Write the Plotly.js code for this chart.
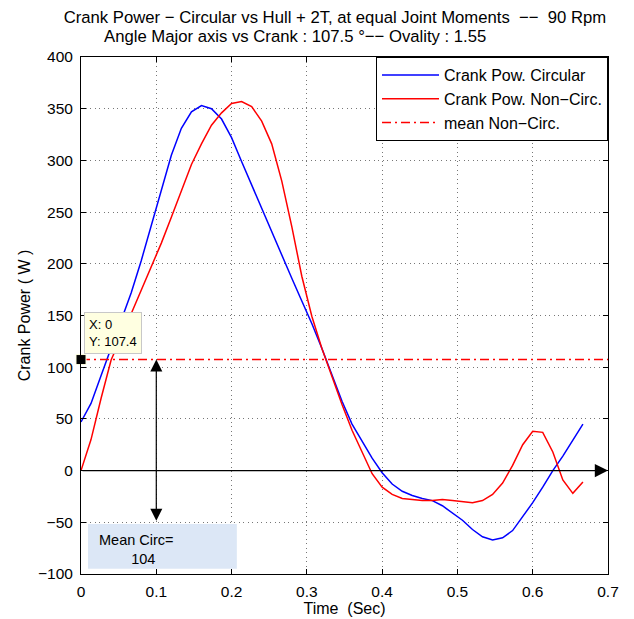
<!DOCTYPE html>
<html><head><meta charset="utf-8">
<script src="https://cdn.plot.ly/plotly-3.0.1.min.js"></script>
<style>html,body{margin:0;padding:0;background:#fff}#chart{width:634px;height:619px}</style>
</head><body><div id="chart"></div>
<script>
const time = [0, 0.0133, 0.0267, 0.04, 0.0533, 0.0667, 0.08, 0.0933, 0.1067, 0.12,
  0.1333, 0.1467, 0.16, 0.1733, 0.1867, 0.2, 0.2133, 0.2267, 0.24, 0.2533,
  0.2667, 0.28, 0.2933, 0.3067, 0.32, 0.3333, 0.3467, 0.36, 0.3733, 0.3867,
  0.4, 0.4133, 0.4267, 0.44, 0.4533, 0.4667, 0.48, 0.4933, 0.5067, 0.52,
  0.5333, 0.5467, 0.56, 0.5733, 0.5867, 0.6, 0.6133, 0.6267, 0.64, 0.6533, 0.6667];
const crankPowCircular = [47, 65, 92, 118, 145, 172, 203, 237, 271, 305,
  331, 347, 353, 350, 340, 322, 299, 276, 253, 230,
  208, 186, 164, 142, 118, 93, 67, 45, 28, 12,
  -2, -13, -20, -24, -27, -29, -34, -41, -48, -57,
  -64, -67, -65, -58, -45, -31, -16, 0, 14, 29, 45];
const crankPowNonCirc = [0, 30, 70, 107, 129, 152, 174, 196, 220, 245,
  271, 296, 316, 334, 346, 355, 357, 352, 338, 316,
  280, 236, 188, 149, 118, 91, 64, 39, 18, -3,
  -16, -23, -27, -28, -29, -29, -28, -29, -30, -31,
  -29, -23, -12, 5, 25, 38, 37, 18, -9, -22, -11];
const meanNonCirc = 107.4;
const meanCirc = 104;
const tipX = 0;
const xTicks = [0, 0.1, 0.2, 0.3, 0.4, 0.5, 0.6, 0.7];
const xTickLabels = ['0', '0.1', '0.2', '0.3', '0.4', '0.5', '0.6', '0.7'];
const yTicks = [-100, -50, 0, 50, 100, 150, 200, 250, 300, 350, 400];
const yTickLabels = ['\u2212100', '\u221250', '0', '50', '100', '150', '200', '250', '300', '350', '400'];
const seriesNames = ['Crank Pow. Circular', 'Crank Pow. Non\u2212Circ.', 'mean Non\u2212Circ.'];
const titleLine1 = 'Crank Power \u2212 Circular vs Hull + 2T, at equal Joint Moments \u00a0\u2212\u2212 \u00a090 Rpm';
const titleLine2 = 'Angle Major axis vs Crank : 107.5 \u00b0\u2212\u2212 Ovality : 1.55';

const FONT = 'Liberation Sans, Arial, Helvetica, sans-serif';
const xMin = xTicks[0], xMax = xTicks[xTicks.length - 1];
const yMin = yTicks[0], yMax = yTicks[yTicks.length - 1];

const traces = [
  {x: time, y: crankPowCircular, mode: 'lines', name: seriesNames[0],
   line: {color: '#0000ff', width: 1.5}},
  {x: time, y: crankPowNonCirc, mode: 'lines', name: seriesNames[1],
   line: {color: '#ff0000', width: 1.5}},
  {x: [xMin, xMax], y: [meanNonCirc, meanNonCirc], mode: 'lines', name: seriesNames[2],
   line: {color: '#ff0000', width: 1.5, dash: '9px,4px,2px,4px'}},
  {x: [tipX], y: [meanNonCirc], mode: 'markers', showlegend: false, cliponaxis: false,
   marker: {symbol: 'square', size: 10, color: '#000000', line: {color: '#ffffe1', width: 1}}}
];

const axisCommon = {
  ticks: 'inside', ticklen: 5, tickcolor: '#000', tickwidth: 1,
  mirror: 'allticks', showline: true, linecolor: '#000', linewidth: 1,
  showgrid: true, gridcolor: '#777', gridwidth: 1, griddash: '1px,3.5px',
  zeroline: false, tickfont: {family: FONT, size: 15.5, color: '#000'},
  tickmode: 'array', fixedrange: true
};

const layout = {
  width: 634, height: 619,
  margin: {l: 81, r: 26, t: 57, b: 45, pad: 0},
  paper_bgcolor: '#fff', plot_bgcolor: '#fff',
  font: {family: FONT, size: 16, color: '#000'},
  title: {
    text: titleLine1,
    font: {family: FONT, size: 16.7, color: '#000'},
    x: 335 / 634, xref: 'container', xanchor: 'center',
    y: 1 - 17 / 619, yref: 'container', yanchor: 'middle'
  },
  xaxis: Object.assign({}, axisCommon, {
    range: [xMin, xMax], tickvals: xTicks, ticktext: xTickLabels, ticklabelstandoff: 3,
    title: {text: 'Time\u00a0\u00a0(Sec)', font: {family: FONT, size: 16, color: '#000'}, standoff: 0}
  }),
  yaxis: Object.assign({}, axisCommon, {
    range: [yMin, yMax], tickvals: yTicks, ticktext: yTickLabels, ticklabelstandoff: 4,
    title: {text: 'Crank Power ( W )', font: {family: FONT, size: 16, color: '#000'}, standoff: 3}
  }),
  showlegend: true,
  legend: {
    x: 1, y: 1, xanchor: 'right', yanchor: 'top',
    bgcolor: '#fff', bordercolor: '#000', borderwidth: 1, itemwidth: 57,
    font: {family: FONT, size: 16, color: '#000'}
  },
  shapes: [
    {type: 'rect', xref: 'x', yref: 'y', x0: 0.0093, x1: 0.207, y0: -95, y1: -51.7,
     fillcolor: '#dce7f6', line: {width: 0}, layer: 'above'}
  ],
  annotations: [
    {x: (295 - 81) / 527, y: (574 - 36) / 517, xref: 'paper', yref: 'paper', showarrow: false,
     xanchor: 'center', yanchor: 'middle', text: titleLine2,
     font: {family: FONT, size: 16.7, color: '#000'}},
    {x: xMax, y: 0, ax: xMin, ay: 0, xref: 'x', yref: 'y', axref: 'x', ayref: 'y',
     text: '', showarrow: true, arrowhead: 2, arrowsize: 2.2, arrowwidth: 1.2, arrowcolor: '#000'},
    {x: 0.1, y: meanNonCirc, ax: 0.1, ay: -50, xref: 'x', yref: 'y', axref: 'x', ayref: 'y',
     text: '', showarrow: true, arrowhead: 2, startarrowhead: 2, arrowside: 'end+start',
     arrowsize: 2, startarrowsize: 2, arrowwidth: 1.2, arrowcolor: '#000'},
    {x: tipX, y: meanNonCirc, xref: 'x', yref: 'y', xanchor: 'left', yanchor: 'bottom',
     xshift: 3, yshift: 6, showarrow: false, align: 'left',
     text: 'X: ' + tipX + '<br>Y: ' + meanNonCirc,
     font: {family: FONT, size: 13, color: '#000'},
     bgcolor: '#ffffe1', bordercolor: '#c8c8c8', borderwidth: 1, borderpad: 4},
    {x: 0.0212, y: -57, xref: 'x', yref: 'y', xanchor: 'left', yanchor: 'top',
     showarrow: false, align: 'left',
     text: 'Mean Circ=<br>' + '\u00a0'.repeat(8) + meanCirc,
     font: {family: FONT, size: 14.5, color: '#000'}}
  ]
};

Plotly.newPlot('chart', traces, layout, {displayModeBar: false, staticPlot: true});
</script></body></html>
